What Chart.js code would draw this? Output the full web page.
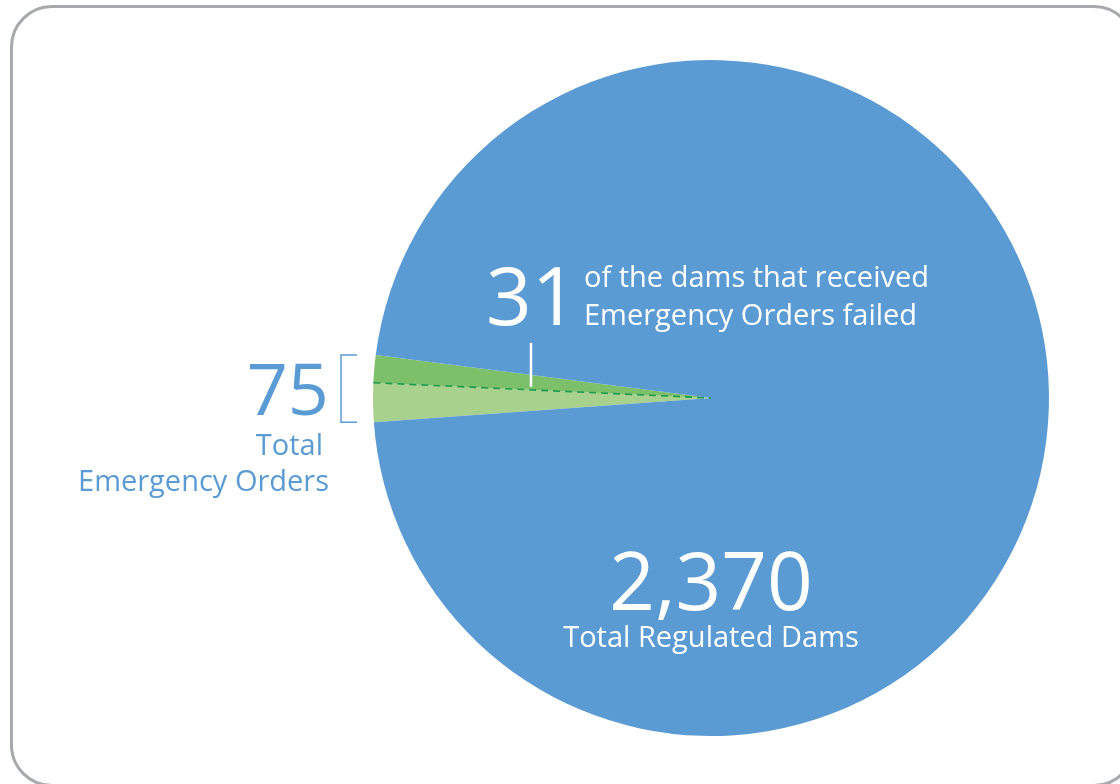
<!DOCTYPE html>
<html lang="en">
<head>
  <meta charset="UTF-8" />
  <title>Regulated Dams and Emergency Orders</title>
  <script src="https://cdn.jsdelivr.net/npm/chart.js"></script>
  <style>
    body {
      margin: 0;
      background: white;
      overflow: hidden;
    }
    .frame {
      position: absolute;
      left: 10px;
      top: 5px;
      width: 1120px;
      height: 776px;
      border: 3px solid #a7a9ac;
      border-radius: 42px;
    }
    .chart-wrap {
      position: absolute;
      left: 0;
      top: 0;
      width: 1120px;
      height: 784px;
    }
  </style>
</head>
<body>
  <div class="frame"></div>
  <div class="chart-wrap">
    <canvas id="damChart" width="1120" height="784"></canvas>
  </div>

  <script>
    // slices, clockwise from the lower edge of the green wedge
    const categories = ["Emergency Orders (did not fail)", "Emergency Orders (failed)", "Other Regulated Dams"];
    const damCounts = [44, 31, 2295];

    const totalDams = damCounts.reduce((a, b) => a + b, 0);   // 2,370
    const totalOrders = damCounts[0] + damCounts[1];           // 75
    const failedOrders = damCounts[1];                         // 31

    const BLUE = "#5b9bd3";
    const FONT = "'Open Sans', sans-serif";

    // wedge sits just above the 9 o'clock direction
    const wedgeDeg = totalOrders / totalDams * 360;
    const startRotation = 270 + 1.6 - wedgeDeg / 2;

    const overlay = {
      id: "overlay",
      afterDatasetsDraw(chart) {
        const ctx = chart.ctx;
        const arcs = chart.getDatasetMeta(0).data;
        const cx = arcs[0].x, cy = arcs[0].y, R = arcs[0].outerRadius;

        // dashed split between failed / not failed
        const a = arcs[1].startAngle;
        ctx.save();
        ctx.strokeStyle = "#1e9a4c";
        ctx.lineWidth = 1.6;
        ctx.setLineDash([7, 5]);
        ctx.beginPath();
        ctx.moveTo(cx + R * Math.cos(a), cy + R * Math.sin(a));
        ctx.lineTo(cx, cy);
        ctx.stroke();
        ctx.restore();

        // white tick from "31" down into the failed slice
        const tx = 531;
        const ty = cy + (tx - cx) * Math.tan(a);
        ctx.save();
        ctx.strokeStyle = "white";
        ctx.lineWidth = 2.5;
        ctx.beginPath();
        ctx.moveTo(tx, 343);
        ctx.lineTo(tx, ty - 3);
        ctx.stroke();
        ctx.restore();

        // bracket beside "75"
        const yTop = cy + R * Math.sin(arcs[1].endAngle);
        const yBot = cy + R * Math.sin(arcs[0].startAngle);
        ctx.save();
        ctx.strokeStyle = BLUE;
        ctx.lineWidth = 1.5;
        ctx.beginPath();
        ctx.moveTo(357, yTop);
        ctx.lineTo(341, yTop);
        ctx.lineTo(341, yBot);
        ctx.lineTo(357, yBot);
        ctx.stroke();
        ctx.restore();

        // texts
        ctx.save();
        ctx.textBaseline = "alphabetic";

        ctx.fillStyle = "white";
        ctx.textAlign = "left";
        ctx.font = "80px " + FONT;
        ctx.fillText(String(failedOrders), 486, 325);
        ctx.font = "29px " + FONT;
        ctx.fillText("of the dams that received", 584, 287);
        ctx.fillText("Emergency Orders failed", 584, 325);

        ctx.textAlign = "center";
        ctx.font = "80px " + FONT;
        ctx.fillText(totalDams.toLocaleString("en-US"), 711, 610);
        ctx.font = "29px " + FONT;
        ctx.fillText("Total Regulated Dams", 711, 647);

        ctx.fillStyle = BLUE;
        ctx.textAlign = "right";
        ctx.font = "72px " + FONT;
        ctx.fillText(String(totalOrders), 329, 415);
        ctx.font = "29px " + FONT;
        ctx.fillText("Total", 323, 455);
        ctx.fillText("Emergency Orders", 329, 491);
        ctx.restore();
      }
    };

    new Chart(document.getElementById("damChart"), {
      type: "pie",
      data: {
        labels: categories,
        datasets: [{
          data: damCounts,
          backgroundColor: ["#a9d18e", "#7cc06a", BLUE],
          borderWidth: 0
        }]
      },
      options: {
        responsive: false,
        animation: false,
        rotation: startRotation,
        layout: {
          padding: { left: 373, right: 71, top: 60, bottom: 48 }
        },
        plugins: {
          legend: { display: false },
          tooltip: { enabled: false }
        }
      },
      plugins: [overlay]
    });
  </script>
</body>
</html>
